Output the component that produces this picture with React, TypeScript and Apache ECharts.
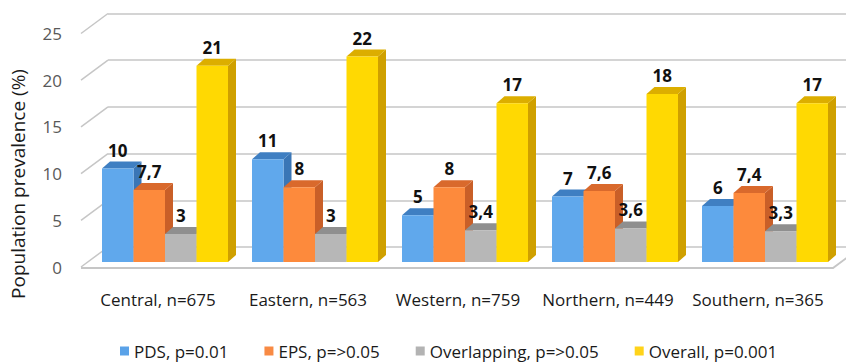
import React, { useEffect, useRef } from "react";
import * as echarts from "echarts";

const categories = ["Central, n=675", "Eastern, n=563", "Western, n=759", "Northern, n=449", "Southern, n=365"];
const seriesNames = ["PDS, p=0.01", "EPS, p=>0.05", "Overlapping, p=>0.05", "Overall, p=0.001"];
const pdsValues = [10, 11, 5, 7, 6];
const epsValues = [7.7, 8, 8, 7.6, 7.4];
const overlapValues = [3, 3, 3.4, 3.6, 3.3];
const overallValues = [21, 22, 17, 18, 17];
const yTicks = [0, 5, 10, 15, 20, 25];

const FONT = "'Open Sans', Lato, sans-serif";

const palette = [
  { front: "#60a8ec", top: "#3f7fc2", side: "#3a76b6", legend: "#5aa2e8" },
  { front: "#fd8a3c", top: "#d9692c", side: "#c95f28", legend: "#f88a44" },
  { front: "#b7b7b7", top: "#8f8f8f", side: "#8a8a8a", legend: "#b3b3b3" },
  { front: "#ffd902", top: "#dcae00", side: "#cfa000", legend: "#ffd31a" },
];

const DX = 8;
const DY = -7;

function makeBarRender(sIdx: number) {
  const col = palette[sIdx];
  return (params: any, api: any) => {
    const cat = api.value(0);
    const v = api.value(1);
    const base = api.coord([cat, 0]);
    const topY = api.coord([cat, v])[1];
    const band = api.size([1, 0])[0];
    const bw = band * 0.21;
    const x0 = base[0] - bw * 2 + sIdx * bw;
    const x1 = x0 + bw;
    const y0 = base[1];
    return {
      type: "group",
      children: [
        {
          type: "polygon",
          shape: { points: [[x1, topY], [x1 + DX, topY + DY], [x1 + DX, y0 + DY], [x1, y0]] },
          style: { fill: col.side },
        },
        {
          type: "polygon",
          shape: { points: [[x0, topY], [x0 + DX, topY + DY], [x1 + DX, topY + DY], [x1, topY]] },
          style: { fill: col.top },
        },
        {
          type: "rect",
          shape: { x: x0, y: topY, width: bw, height: y0 - topY },
          style: { fill: col.front },
        },
        {
          type: "text",
          z2: 50,
          style: {
            x: (x0 + x1) / 2,
            y: topY + DY - 3,
            text: String(v).replace(".", ","),
            textAlign: "center",
            textVerticalAlign: "bottom",
            fontFamily: FONT,
            fontWeight: "bold",
            fontSize: 17,
            fill: "#111",
          },
        },
      ],
    };
  };
}

function wallRender(params: any, api: any) {
  const cs = params.coordSys;
  const v = api.value(0);
  const y = api.coord([0, v])[1];
  const x = cs.x - 2;
  const children: any[] = [
    {
      type: "line",
      shape: { x1: x, y1: y, x2: x + 27, y2: y - 20 },
      style: { stroke: "#c6c6c6", lineWidth: 1.5 },
    },
  ];
  if (v === 0) {
    const xr = x + 752;
    children.push({
      type: "polyline",
      shape: { points: [[x, y + 1], [xr, y + 1], [xr + 27, y - 19]] },
      style: { stroke: "#c6c6c6", lineWidth: 2, fill: "none" },
    });
  }
  return { type: "group", children };
}

export default function App() {
  const ref = useRef<HTMLDivElement>(null);
  useEffect(() => {
    if (!ref.current) return;
    const chart = echarts.init(ref.current, null, { renderer: "svg" });
    const allValues = [pdsValues, epsValues, overlapValues, overallValues];
    const yAxisBase = { type: "value", min: 0, max: 25, interval: 5 };
    chart.setOption({
      animation: false,
      backgroundColor: "#ffffff",
      grid: [
        { left: 90, top: 28.5, width: 750, height: 233.5 },
        { left: 108, top: 13.5, width: 738, height: 233.5 },
        { left: 83, top: 33.5, width: 750, height: 233.5 },
      ],
      xAxis: [
        { type: "category", gridIndex: 0, data: categories, show: false },
        { type: "category", gridIndex: 1, data: categories, show: false },
        {
          type: "category",
          gridIndex: 2,
          data: categories,
          axisLine: { show: false },
          axisTick: { show: false },
          axisLabel: { interval: 0, margin: 24, fontFamily: FONT, fontSize: 17, color: "#1a1a1a" },
        },
      ],
      yAxis: [
        { ...yAxisBase, gridIndex: 0, show: false },
        {
          ...yAxisBase,
          gridIndex: 1,
          axisLine: { show: false },
          axisTick: { show: false },
          axisLabel: { show: false },
          splitLine: { show: true, lineStyle: { color: "#c6c6c6", width: 1.5 } },
        },
        {
          ...yAxisBase,
          gridIndex: 2,
          axisLine: { show: false },
          axisTick: { show: false },
          splitLine: { show: false },
          axisLabel: { margin: 21, fontFamily: FONT, fontSize: 17, color: "#595959" },
        },
      ],
      legend: {
        left: 120,
        top: 342,
        padding: 0,
        icon: "rect",
        itemWidth: 9,
        itemHeight: 9,
        itemGap: 36,
        data: seriesNames,
        textStyle: { fontFamily: FONT, fontSize: 17, lineHeight: 18, color: "#1a1a1a" },
      },
      graphic: [
        {
          type: "text",
          x: 18,
          y: 184,
          rotation: Math.PI / 2,
          style: {
            text: "Population prevalence (%)",
            textAlign: "center",
            textVerticalAlign: "middle",
            fontFamily: FONT,
            fontSize: 19,
            fill: "#1a1a1a",
          },
        },
      ],
      series: [
        {
          type: "custom",
          name: "wall",
          xAxisIndex: 2,
          yAxisIndex: 2,
          data: yTicks.map((t) => [t]),
          renderItem: wallRender,
          silent: true,
          z: 1,
        },
        ...allValues.map((vals, s) => ({
          type: "custom",
          name: seriesNames[s],
          xAxisIndex: 0,
          yAxisIndex: 0,
          itemStyle: { color: palette[s].legend },
          data: vals.map((v, i) => [i, v]),
          renderItem: makeBarRender(s),
          z: 2 + s,
        })),
      ],
    });
    return () => chart.dispose();
  }, []);
  return (
    <div
      ref={ref}
      style={{ position: "fixed", left: 0, top: 0, width: 846, height: 364 }}
    />
  );
}
